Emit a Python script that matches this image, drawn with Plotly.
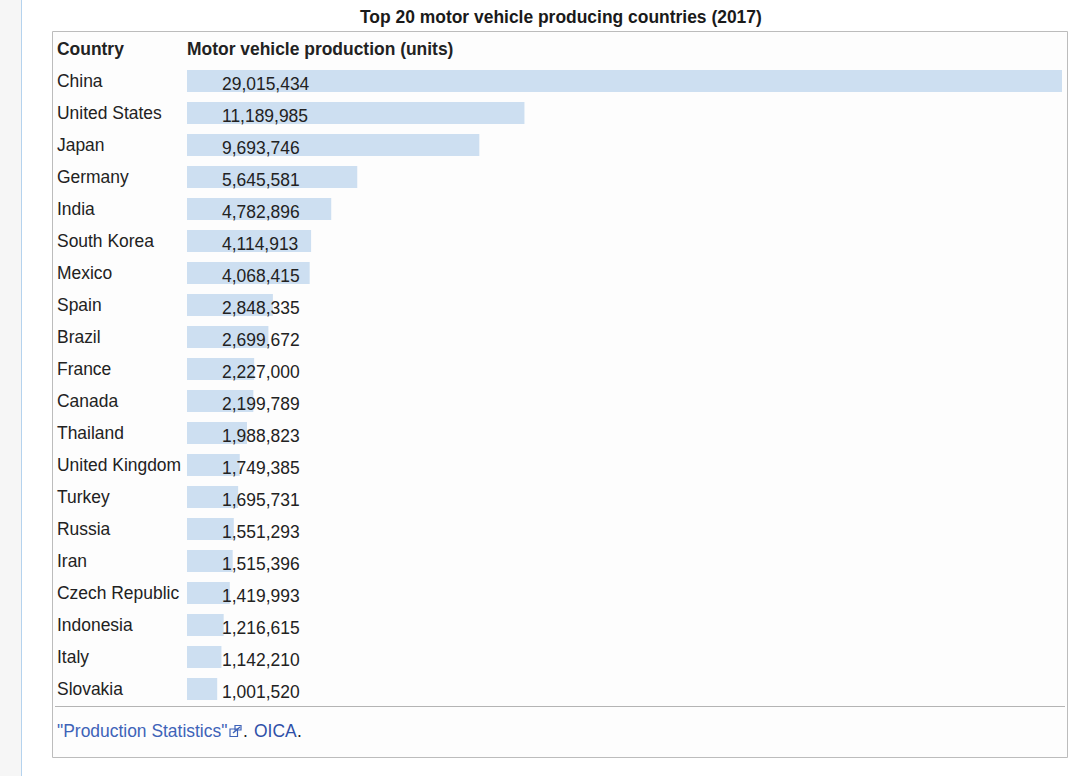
import plotly.graph_objects as go

countries = ["China", "United States", "Japan", "Germany", "India", "South Korea", "Mexico",
             "Spain", "Brazil", "France", "Canada", "Thailand", "United Kingdom", "Turkey",
             "Russia", "Iran", "Czech Republic", "Indonesia", "Italy", "Slovakia"]
production = [29015434, 11189985, 9693746, 5645581, 4782896, 4114913, 4068415,
              2848335, 2699672, 2227000, 2199789, 1988823, 1749385, 1695731,
              1551293, 1515396, 1419993, 1216615, 1142210, 1001520]
title_text = "Top 20 motor vehicle producing countries (2017)"
col_country = "Country"
col_production = "Motor vehicle production (units)"

W, H = 1077, 776
FONT = "Liberation Sans"
INK = "#222222"
BAR = "#cddff1"
LINK = "#3e63b8"
BODY = 17.45


def px(x):
    return x / W


def py(y):
    return 1 - y / H


fig = go.Figure(go.Bar(
    x=production, y=countries, orientation="h",
    marker=dict(color=BAR, line=dict(width=0)),
    hoverinfo="skip",
))

shapes = [
    dict(type="rect", xref="paper", yref="paper", x0=0, x1=px(21), y0=0, y1=1,
         fillcolor="#f6f6f6", line_width=0, layer="below"),
    dict(type="line", xref="paper", yref="paper", x0=px(21.5), x1=px(21.5), y0=0, y1=1,
         line=dict(color="#b5d3ee", width=1), layer="below"),
    dict(type="rect", xref="paper", yref="paper", x0=px(52.5), x1=px(1067.5), y0=py(31.5), y1=py(757.5),
         fillcolor="#fdfdfd", line=dict(color="#bcbcbc", width=1), layer="below"),
    dict(type="line", xref="paper", yref="paper", x0=px(55), x1=px(1065), y0=py(706.5), y1=py(706.5),
         line=dict(color="#b4b4b4", width=1), layer="below"),
    # external-link icon
    dict(type="rect", xref="paper", yref="paper", x0=px(230), x1=px(237.5), y0=py(729), y1=py(736.5),
         line=dict(color=LINK, width=1.2)),
    dict(type="line", xref="paper", yref="paper", x0=px(233), x1=px(240), y0=py(733), y1=py(727),
         line=dict(color=LINK, width=1.5)),
    dict(type="rect", xref="paper", yref="paper", x0=px(235), x1=px(241), y0=py(725.5), y1=py(730),
         line=dict(color=LINK, width=1.2)),
]

ann = []


def paper_text(x, y, text, size=BODY, bold=False, color=INK, anchor="left"):
    ann.append(dict(xref="paper", yref="paper", x=px(x), y=py(y), text=f"<b>{text}</b>" if bold else text,
                    showarrow=False, xanchor=anchor, yanchor="middle",
                    font=dict(family=FONT, size=size, color=color)))


paper_text(561, 17, title_text, bold=True, size=17.45, anchor="center", color="#1a1a1a")
paper_text(55, 49, col_country, bold=True)
paper_text(185, 49, col_production, bold=True)
for name, value in zip(countries, production):
    ann.append(dict(xref="paper", yref="y", x=px(55), y=name, text=name, showarrow=False,
                    xanchor="left", yanchor="middle", font=dict(family=FONT, size=BODY, color=INK)))
    ann.append(dict(xref="paper", yref="y", x=px(220), y=name, text=f"{value:,}", showarrow=False,
                    xanchor="left", yanchor="middle", yshift=-3,
                    font=dict(family=FONT, size=BODY, color=INK)))

paper_text(55, 731, "\"Production Statistics\"", color=LINK)
paper_text(241, 731, ".")
paper_text(251.5, 731, "OICA", color="#2f50a8")
paper_text(294.5, 731, ".")

fig.update_layout(
    width=W, height=H, autosize=False,
    margin=dict(l=0, r=0, t=0, b=0, pad=0),
    paper_bgcolor="white", plot_bgcolor="rgba(0,0,0,0)",
    bargap=10 / 32, showlegend=False,
    shapes=shapes, annotations=ann,
    xaxis=dict(domain=[px(187), px(1062)], range=[0, max(production)], visible=False),
    yaxis=dict(domain=[py(705), py(65)], categoryorder="array", categoryarray=countries,
               autorange=False, range=[19.5, -0.5], visible=False),
)

fig.write_html("out.html", config=dict(displayModeBar=False),
               post_script="document.body.style.margin='0';")
